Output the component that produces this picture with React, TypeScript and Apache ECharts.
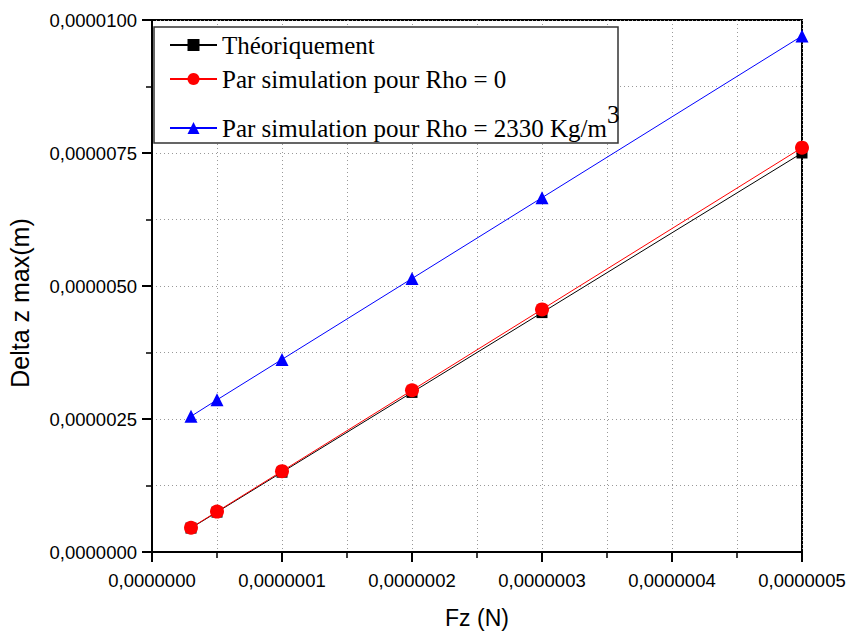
import React, { useEffect, useRef } from "react";
import * as echarts from "echarts";

const fzValues = [3e-8, 5e-8, 1e-7, 2e-7, 3e-7, 5e-7];
const theoretical = [0.45e-6, 0.75e-6, 1.5e-6, 3.0e-6, 4.5e-6, 7.5e-6];
const simRho0 = [0.456e-6, 0.76e-6, 1.52e-6, 3.04e-6, 4.56e-6, 7.6e-6];
const simRho2330 = [2.55e-6, 2.86e-6, 3.62e-6, 5.14e-6, 6.66e-6, 9.7e-6];

const seriesNames = [
  "Théoriquement",
  "Par simulation pour Rho = 0",
  "Par simulation pour Rho = 2330 Kg/m3",
];

const fmt = (v: number) => v.toFixed(7).replace(".", ",");

export default function App() {
  const ref = useRef<HTMLDivElement>(null);
  useEffect(() => {
    if (!ref.current) return;
    const chart = echarts.init(ref.current, null, { renderer: "svg" });
    const gridLine = { show: true, lineStyle: { color: "#999", type: [1, 3] as any, width: 1 } };
    const pair = (ys: number[]) => fzValues.map((x, i) => [x, ys[i]]);
    const legendBase = {
      padding: 0,
      left: 169,
      itemWidth: 47,
      itemHeight: 15,
      selectedMode: false,
      z: 6,
      textStyle: { fontFamily: "Liberation Serif", fontSize: 25, color: "#000" },
    };
    chart.setOption({
      animation: false,
      textStyle: { fontFamily: "Liberation Sans" },
      grid: {
        left: 152,
        right: 49,
        top: 20,
        bottom: 85,
        show: true,
        borderColor: "#000",
        borderWidth: 2,
      },
      xAxis: {
        type: "value",
        min: 0,
        max: 5e-7,
        interval: 1e-7,
        name: "Fz (N)",
        nameLocation: "middle",
        nameGap: 54,
        nameTextStyle: { fontFamily: "Liberation Sans", fontSize: 23, color: "#000" },
        axisLine: { show: true, lineStyle: { color: "#000", width: 2 } },
        axisTick: { show: true, length: 10, lineStyle: { color: "#000", width: 2 } },
        minorTick: { show: true, splitNumber: 2, length: 6, lineStyle: { color: "#000", width: 1.5 } },
        splitLine: gridLine,
        minorSplitLine: gridLine,
        axisLabel: {
          formatter: fmt,
          fontFamily: "Liberation Sans",
          fontSize: 18.5,
          color: "#000",
          margin: 19,
        },
      },
      yAxis: {
        type: "value",
        min: 0,
        max: 1e-5,
        interval: 2.5e-6,
        axisLine: { show: true, lineStyle: { color: "#000", width: 2 } },
        axisTick: { show: true, length: 10, lineStyle: { color: "#000", width: 2 } },
        minorTick: { show: true, splitNumber: 2, length: 6, lineStyle: { color: "#000", width: 1.5 } },
        splitLine: gridLine,
        minorSplitLine: gridLine,
        axisLabel: {
          formatter: fmt,
          fontFamily: "Liberation Sans",
          fontSize: 18.5,
          color: "#000",
          margin: 15,
        },
      },
      legend: [
        { ...legendBase, top: 32.5, data: [seriesNames[0]] },
        { ...legendBase, top: 66.5, data: [seriesNames[1]] },
        {
          ...legendBase,
          top: 101.5,
          data: [seriesNames[2]],
          formatter: () => "{a|Par simulation pour Rho = 2330 Kg/m}{s|3}",
          textStyle: {
            fontFamily: "Liberation Serif",
            fontSize: 25,
            color: "#000",
            rich: {
              a: { fontFamily: "Liberation Serif", fontSize: 25, lineHeight: 25, color: "#000", padding: [14, 0, 14, 0] },
              s: { fontFamily: "Liberation Serif", fontSize: 25, lineHeight: 25, color: "#000", padding: [0, 0, 28, 0] },
            },
          },
        },
      ],
      graphic: [
        {
          type: "rect",
          z: 3,
          shape: { x: 154, y: 27, width: 464, height: 116 },
          style: { fill: "#fff", stroke: "#333", lineWidth: 1.5 },
        },
        {
          type: "text",
          x: 20,
          y: 303,
          rotation: Math.PI / 2,
          style: {
            text: "Delta z max(m)",
            fontFamily: "Liberation Sans",
            fontSize: 25,
            fill: "#000",
            textAlign: "center",
            textVerticalAlign: "middle",
            align: "center",
            verticalAlign: "middle",
          } as any,
        },
      ],
      series: [
        {
          name: seriesNames[0],
          type: "line",
          data: pair(theoretical),
          symbol: "rect",
          symbolSize: 11,
          itemStyle: { color: "#000" },
          lineStyle: { color: "#000", width: 1 },
          z: 2,
        },
        {
          name: seriesNames[1],
          type: "line",
          data: pair(simRho0),
          symbol: "circle",
          symbolSize: 14,
          itemStyle: { color: "#ff0000" },
          lineStyle: { color: "#ff0000", width: 1 },
          z: 3,
        },
        {
          name: seriesNames[2],
          type: "line",
          data: pair(simRho2330),
          symbol: "triangle",
          symbolSize: 13,
          itemStyle: { color: "#0000ff" },
          lineStyle: { color: "#0000ff", width: 1 },
          z: 4,
        },
      ],
    });
    return () => chart.dispose();
  }, []);
  return (
    <div
      ref={ref}
      style={{ position: "fixed", left: 0, top: 0, width: 851, height: 637, background: "#fff" }}
    />
  );
}
